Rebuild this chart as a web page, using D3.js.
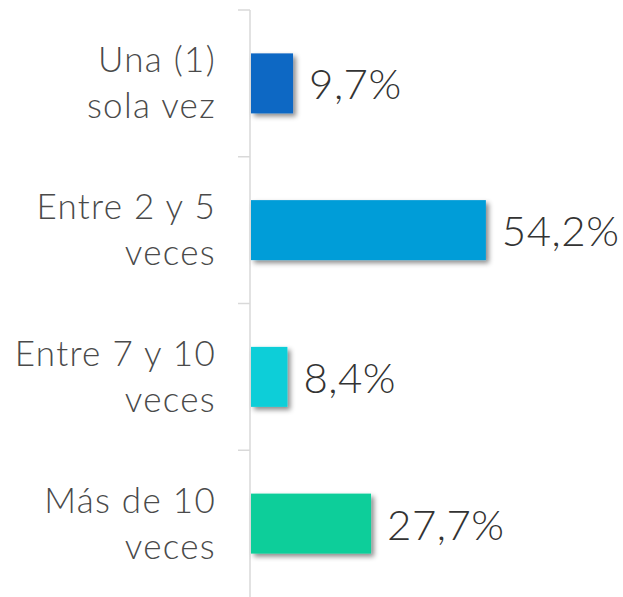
<!DOCTYPE html>
<html>
<head>
<meta charset="utf-8">
<script src="https://cdn.jsdelivr.net/npm/d3@7"></script>
<style>
  html, body { margin: 0; padding: 0; background: #fff; }
  svg { display: block; }
  text { font-family: "Century Gothic", Lato, "Open Sans", sans-serif; font-weight: 300; }
</style>
</head>
<body>
<div id="chart"></div>
<script>
// Frequency categories (each label split into its two display lines)
const categories = ["Una (1) sola vez", "Entre 2 y 5 veces", "Entre 7 y 10 veces", "Más de 10 veces"];
const categoryLines = [["Una (1)", "sola vez"], ["Entre 2 y 5", "veces"], ["Entre 7 y 10", "veces"], ["Más de 10", "veces"]];
const values = [9.7, 54.2, 8.4, 27.7];
const valueLabels = ["9,7%", "54,2%", "8,4%", "27,7%"];
const colors = ["#1168C4", "#009DD8", "#0ACED8", "#11CE9A"];

const W = 623, H = 597;
const axisX = 250;

const svg = d3.select("#chart").append("svg")
  .attr("width", W).attr("height", H);

const defs = svg.append("defs");
const shadow = defs.append("filter").attr("id", "barShadow")
  .attr("x", "-20%").attr("y", "-20%").attr("width", "150%").attr("height", "150%");
shadow.append("feDropShadow")
  .attr("dx", 3).attr("dy", 3).attr("stdDeviation", 2.5)
  .attr("flood-color", "#000").attr("flood-opacity", 0.45);

const y = d3.scaleBand().domain(categories).range([10, 597]).padding(0);
const x = d3.scaleLinear().domain([0, 60]).range([axisX + 1, axisX + 261]);
const barH = 60;

// Category axis: vertical line with ticks between categories
const axisG = svg.append("g");
axisG.append("line")
  .attr("x1", axisX).attr("x2", axisX)
  .attr("y1", y.range()[0]).attr("y2", H)
  .attr("stroke", "#D9D9D9").attr("stroke-width", 1.5);
const bounds = categories.map(c => y(c));
axisG.selectAll("line.tick").data(bounds).join("line")
  .attr("class", "tick")
  .attr("x1", axisX - 12).attr("x2", axisX)
  .attr("y1", d => d).attr("y2", d => d)
  .attr("stroke", "#D9D9D9").attr("stroke-width", 1.5);

// Bars
svg.append("g").selectAll("rect").data(categories).join("rect")
  .attr("x", x(0))
  .attr("y", d => y(d) + y.bandwidth() / 2 - barH / 2)
  .attr("width", (d, i) => x(values[i]) - x(0))
  .attr("height", barH)
  .attr("fill", (d, i) => colors[i])
  .attr("filter", "url(#barShadow)");

// Value labels
svg.append("g").selectAll("text").data(categories).join("text")
  .attr("x", (d, i) => x(values[i]) + 16)
  .attr("y", d => y(d) + y.bandwidth() / 2 + 16)
  .attr("fill", "#333333")
  .attr("font-size", 42)
  .attr("letter-spacing", 0.5)
  .text((d, i) => valueLabels[i]);

// Category labels (two lines, right aligned)
const catG = svg.append("g").selectAll("text").data(categories).join("text")
  .attr("text-anchor", "end")
  .attr("fill", "#4a4a4a")
  .attr("font-size", 35)
  .attr("letter-spacing", 1.3);
catG.each(function(d, i) {
  const t = d3.select(this);
  const cy = y(d) + y.bandwidth() / 2;
  categoryLines[i].forEach((line, k) => {
    t.append("tspan")
      .attr("x", 216)
      .attr("y", cy - 11 + k * 46)
      .text(line);
  });
});
</script>
</body>
</html>
